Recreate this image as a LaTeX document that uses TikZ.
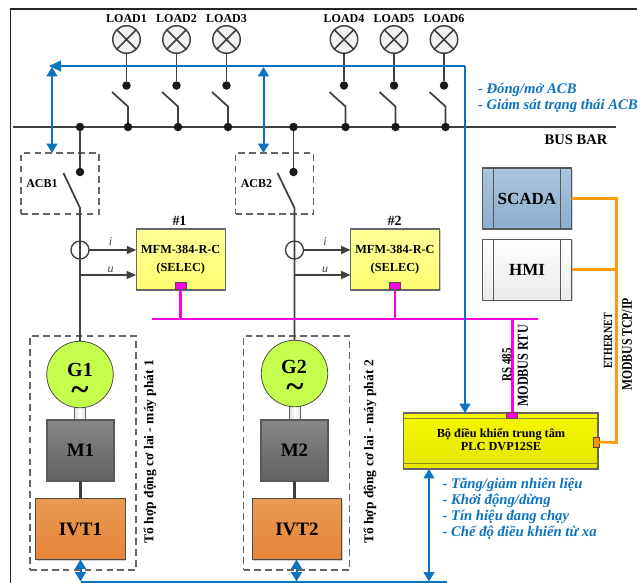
\documentclass[tikz,border=0pt]{standalone}
\usepackage{fontspec}
\setmainfont{Liberation Serif}
\newfontfamily\condf[FakeStretch=0.8]{Liberation Serif}
\usetikzlibrary{arrows.meta,shadows,calc}
\newcommand{\fs}[1]{\pgfmathsetmacro\fsv{#1*0.75}\pgfmathsetmacro\fsb{#1*1.1}\fontsize{\fsv pt}{\fsb pt}\selectfont}
\definecolor{bluec}{HTML}{0B72C0}
\definecolor{magc}{HTML}{FF00E6}
\definecolor{orc}{HTML}{FF9A0A}
\definecolor{darkl}{HTML}{404040}
\tikzset{
 every node/.style={inner sep=0pt,outer sep=0pt,font=\bfseries},
 lamp/.style={circle,draw=darkl,line width=1.1pt,fill=white!95!black,minimum size=27.5*0.75pt,
   path picture={\draw[darkl,line width=1.1pt] (path picture bounding box.north west)--(path picture bounding box.south east)
     (path picture bounding box.north east)--(path picture bounding box.south west);}},
 dotn/.style={circle,fill=black!90,minimum size=8.5*0.75pt},
 wire/.style={darkl,line width=1.3pt},
 thin wire/.style={darkl,line width=0.9pt},
 busw/.style={darkl,line width=1.2pt},
 sigarrow/.style={thin wire,-{Triangle[width=6pt,length=7pt]}},
 bluew/.style={bluec,line width=1.5pt},
 bluearr/.style={bluew,{Triangle[width=8pt,length=7pt]}-{Triangle[width=8pt,length=7pt]}},
 magw/.style={magc,line width=2pt},
 orw/.style={orc,line width=2pt},
 dashbox/.style={draw=black!60,dash pattern=on 5pt off 3.2pt,line width=0.9pt},
 sh/.style={drop shadow={shadow xshift=0.8pt,shadow yshift=-0.8pt,fill=black!30,opacity=0.6}},
 meter/.style={draw=black!60,line width=0.8pt,top color=yellowtop,bottom color=yellowbot,sh,minimum width=89*0.75pt,minimum height=61*0.75pt,align=center,font=\bfseries\fs{12.3}},
 port/.style={draw=black!70,line width=0.6pt,fill=magc},
 hostbox/.style={draw=black!65,line width=0.8pt,sh,minimum width=89*0.75pt,minimum height=61*0.75pt,font=\bfseries\fs{17}},
 block/.style={draw=black!65,line width=0.8pt,sh,font=\bfseries\fs{19}},
 ivtbox/.style={block,draw=black!70,top color=ivttop,bottom color=ivtbot,minimum width=89.5*0.75pt,minimum height=61*0.75pt},
 vlabelb/.style={rotate=90,font=\bfseries\fs{13.5}},
 bluetxt/.style={anchor=west,text=bluec,font=\bfseries\itshape\fs{14.7}},
 sigl/.style={font=\mdseries\itshape\fs{12},text=darkl},
}
\definecolor{yellowtop}{HTML}{FFFF99}
\definecolor{yellowbot}{HTML}{FFFF70}
\definecolor{ivttop}{HTML}{E99A52}
\definecolor{ivtbot}{HTML}{E5853A}
\definecolor{scadatop}{HTML}{A9C5E0}
\definecolor{scadabot}{HTML}{8CAECF}
\definecolor{plctop}{HTML}{F7F700}
\definecolor{plcbot}{HTML}{E6E600}
\definecolor{plcline}{HTML}{8A8A20}
\begin{document}
\begin{tikzpicture}[x=0.75pt,y=-0.75pt]
\useasboundingbox (0,0) rectangle (637,583);
\fill[white] (0,0) rectangle (637,583);
% frame
\coordinate (fa) at (10.5,583); \coordinate (fb) at (10.5,9); \coordinate (fc) at (637,9);
\draw[black!85,line width=1pt] (fa)--(fb)--(fc);
% bus
\coordinate (busL) at (13,127); \coordinate (busR) at (616,127);
\draw[busw] (busL)--(busR);
\node[font=\bfseries\fs{14.6}] (busbar) at (576,139.5) {BUS BAR};
% load feeders
\foreach \n/\lx/\bx in {1/126.5/128,2/176.5/178,3/226.5/228,4/344/345.5,5/394/395.5,6/444/445.5}{
  \node[lamp] (lamp\n) at (\lx,39.5) {};
  \node[font=\bfseries\fs{12}] (lt\n) at (\lx,19) {LOAD\n};
  \node[dotn] (ld\n) at (\lx,85.5) {};
  \node[dotn] (bd\n) at (\bx,127) {};
  \coordinate (sa\n) at (\bx-16,92);
  \coordinate (sb\n) at (\bx,106.5);
  \draw[wire] (lamp\n)--(ld\n);
  \draw[wire] (sa\n)--(sb\n)--(bd\n);
}
% ACB boxes
\node[dashbox,minimum width=78*0.75pt,minimum height=61*0.75pt] (acb1) at (60,183.5) {};
\node[dashbox,minimum width=78*0.75pt,minimum height=61*0.75pt] (acb2) at (274.5,183.5) {};
\node[font=\bfseries\fs{12}] (acb1t) at (42,183.5) {ACB1};
\node[font=\bfseries\fs{12}] (acb2t) at (256.5,183.5) {ACB2};
% generator groups
\node[dashbox,minimum width=106*0.75pt,minimum height=234*0.75pt] (grp1) at (83,453) {};
\node[dashbox,minimum width=106*0.75pt,minimum height=234*0.75pt] (grp2) at (296.5,453) {};
% generators etc.
\node[draw=black!60,line width=0.7pt,minimum width=11*0.75pt,minimum height=17*0.75pt,left color=black!12,right color=black!12,middle color=white] (sh1) at (80,412) {};
\node[draw=black!60,line width=0.7pt,minimum width=11*0.75pt,minimum height=17*0.75pt,left color=black!12,right color=black!12,middle color=white] (sh2) at (295,411) {};
\node[draw=black!70,line width=0.6pt,circle,minimum size=66.5*0.75pt,fill={rgb,255:red,196;green,255;blue,77}] (g1) at (80,374.5) {};
\node[draw=black!70,line width=0.6pt,circle,minimum size=66.5*0.75pt,fill={rgb,255:red,196;green,255;blue,77}] (g2) at (294.5,373.5) {};
\node[font=\bfseries\fs{20}] (g1t) at (80,370) {G1};
\node[font=\bfseries\fs{33}] (g1s) at (80,394) {\char"007E};
\node[font=\bfseries\fs{20}] (g2t) at (294,367) {G2};
\node[font=\bfseries\fs{33}] (g2s) at (295,391) {\char"007E};
\node[block,top color=black!47,bottom color=black!62,minimum width=67*0.75pt,minimum height=61*0.75pt] (m1) at (80.5,450.5) {M1};
\node[block,top color=black!47,bottom color=black!62,minimum width=67*0.75pt,minimum height=61*0.75pt] (m2) at (294.5,450.5) {M2};
\node[ivtbox] (ivt1) at (80.5,529) {IVT1};
\node[ivtbox] (ivt2) at (297,529) {IVT2};
\draw[darkl,line width=2.6pt] (m1.south)--(m1.south|-ivt1.north);
\draw[darkl,line width=2.6pt] (m2.south)--(m2.south|-ivt2.north);
% ACB switch wires
\node[dotn] (acbt1) at (80,127) {};
\node[dotn] (acbb1) at (80,172) {};
\node[dotn] (acbt2) at (293.5,127) {};
\node[dotn] (acbb2) at (293.5,172) {};
\draw[wire] (acbt1)--(acbb1);
\draw[wire] (acbt2)--(acbb2);
\coordinate (bl1) at (63.5,173); \coordinate (bp1) at (80,208);
\coordinate (bl2) at (277.5,173); \coordinate (bp2) at (294.5,208);
\draw[wire] (bl1)--(bp1)--(bp1|-g1.north);
\draw[wire] (bl2)--(bp2)--(bp2|-g2.north);
% CT
\node[circle,draw=darkl,line width=1pt,minimum size=18*0.75pt] (ct1) at (80,250) {};
\node[circle,draw=darkl,line width=1pt,minimum size=18*0.75pt] (ct2) at (294.5,250) {};
% meters
\node[meter] (mfm1) at (180.75,259.5) {MFM-384-R-C\\(SELEC)};
\node[meter] (mfm2) at (395,259.5) {MFM-384-R-C\\(SELEC)};
\node[font=\bfseries\fs{14}] (n1) at (179.5,221) {\#1};
\node[font=\bfseries\fs{14}] (n2) at (394.5,221) {\#2};
\coordinate (ui1) at (80,275); \coordinate (uo1) at (136,275);
\coordinate (ui2) at (294.5,275); \coordinate (uo2) at (350.5,275);
\draw[sigarrow] (ct1.east)--(ct1.east-|mfm1.west);
\draw[sigarrow] (ct2.east)--(ct2.east-|mfm2.west);
\draw[sigarrow] (ui1)--(uo1);
\draw[sigarrow] (ui2)--(uo2);
\node[sigl] (i1) at (110.5,242) {i};
\node[sigl] (u1) at (110.5,269.5) {u};
\node[sigl] (i2) at (325,242) {i};
\node[sigl] (u2) at (325,269.5) {u};
% PLC
\node[draw=black!60,line width=0.8pt,sh,top color=plctop,bottom color=plcbot,minimum width=194.5*0.75pt,minimum height=56*0.75pt] (plc) at (500.75,441) {};
\draw[plcline,line width=0.9pt] ($(plc.north west)+(0,5.5)$)--($(plc.north east)+(0,5.5)$);
\draw[plcline,line width=0.9pt] ($(plc.south west)+(0,-5.5)$)--($(plc.south east)+(0,-5.5)$);
\node[font=\bfseries\fs{12.3}] (plct1) at (501,434.5) {Bộ điều khiển trung tâm};
\node[font=\bfseries\fs{12.3}] (plct2) at (501,447) {PLC DVP12SE};
% magenta bus
\node[port,minimum width=11*0.75pt,minimum height=7.5*0.75pt] (p1) at (180.75,286) {};
\node[port,minimum width=11*0.75pt,minimum height=7.5*0.75pt] (p2) at (395,286) {};
\node[port,minimum width=11.5*0.75pt,minimum height=6*0.75pt] (p3) at (512,415) {};
\coordinate (mL) at (152,319); \coordinate (mR) at (538,319); \coordinate (mJ) at (512.5,319);
\draw[magw] (mL)--(mR);
\draw[magw] (p1.south)--(p1.south|-mL);
\draw[magw] (p2.south)--(p2.south|-mL);
\draw[magw] (mJ)--(p3.north-|mJ);
% hosts
\node[hostbox,top color=scadatop,bottom color=scadabot] (scada) at (527,198.5) {SCADA};
\node[hostbox,top color=white,bottom color=black!8] (hmi) at (527,269.75) {HMI};
\draw[black!65,line width=0.8pt] ($(scada.north west)+(11,0)$)--($(scada.south west)+(11,0)$) ($(scada.north east)+(-11,0)$)--($(scada.south east)+(-11,0)$);
\draw[black!65,line width=0.8pt] ($(hmi.north west)+(11,0)$)--($(hmi.south west)+(11,0)$) ($(hmi.north east)+(-11,0)$)--($(hmi.south east)+(-11,0)$);
% orange
\node[draw=black!70,line width=0.6pt,fill=orange!85!yellow,minimum width=5.5*0.75pt,minimum height=10*0.75pt] (p4) at (596.5,442) {};
\coordinate (oT) at (616.5,198.5); \coordinate (oB) at (616.5,442.5);
\draw[orw] (scada.east)--(oT)--(oB)--(p4.east);
\draw[orw] (hmi.east)--(hmi.east-|oT);
% blue control
\coordinate (bTL) at (49,66); \coordinate (bTR) at (465,66);
\draw[bluew,{Triangle[width=8pt,length=9pt]}-] (bTL)--(bTR);
\draw[bluew,-{Triangle[width=8pt,length=7pt]}] (bTR)--(plc.north-|bTR);
\coordinate (a1t) at (52,67); \coordinate (a2t) at (263.5,67);
\draw[bluearr] (a1t)--(a1t|-acb1.north);
\draw[bluearr] (a2t)--(a2t|-acb2.north);
\coordinate (bBL) at (80.5,581.5); \coordinate (bBM) at (296.5,581.5); \coordinate (bBR) at (447,581.5); \coordinate (bBP) at (429,581.5);
\draw[bluew] (bBL)--(bBR);
\draw[bluearr] (bBL)--(ivt1.south-|bBL);
\draw[bluearr] (bBM)--(ivt2.south-|bBM);
\draw[bluearr] (bBP)--(plc.south-|bBP);
% texts
\node[bluetxt] (c1) at (478,90) {- Đóng/mở ACB};
\node[bluetxt] (c2) at (478,106) {- Giám sát trạng thái ACB};
\node[bluetxt] (d1) at (442.5,485) {- Tăng/giảm nhiên liệu};
\node[bluetxt] (d2) at (442.5,501) {- Khởi động/dừng};
\node[bluetxt] (d3) at (442.5,517) {- Tín hiệu đang chạy};
\node[bluetxt] (d4) at (442.5,533) {- Chế độ điều khiển từ xa};
\node[vlabelb] (gl1) at (150,451.5) {Tổ hợp động cơ lai - máy phát 1};
\node[vlabelb] (gl2) at (370,452) {Tổ hợp động cơ lai - máy phát 2};
\node[rotate=90,font=\condf\bfseries\fs{13.7}] (rs) at (507,365) {RS 485};
\node[rotate=90,font=\condf\bfseries\fs{15.2}] (rtu) at (523,366) {MODBUS RTU};
\node[rotate=90,font=\condf\bfseries\fs{12.5}] (eth) at (608,341) {ETHERNET};
\node[rotate=90,font=\condf\bfseries\fs{14.6}] (tcp) at (627,344.5) {MODBUS TCP/IP};
\end{tikzpicture}
\end{document}
